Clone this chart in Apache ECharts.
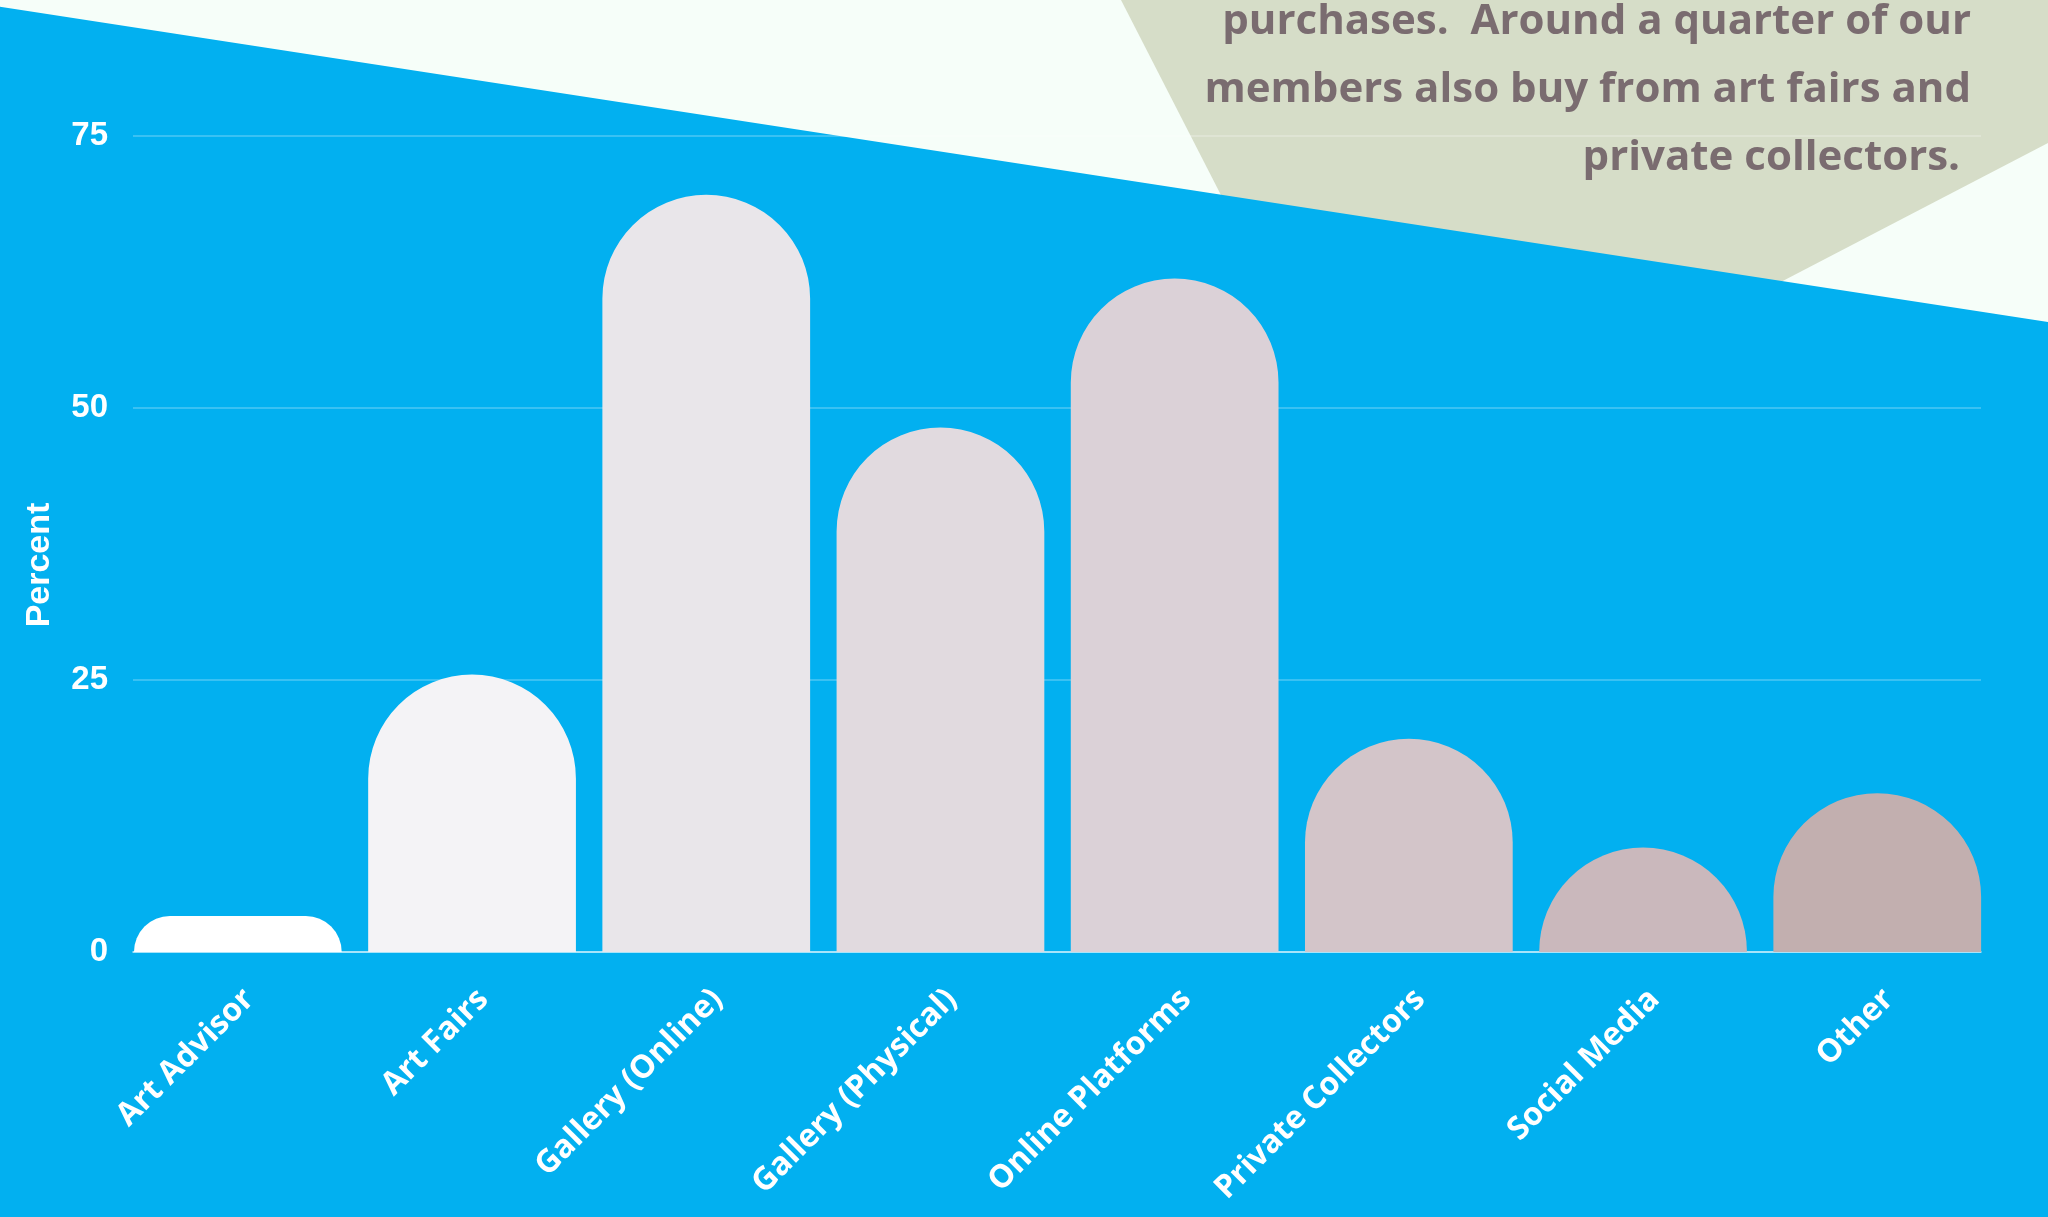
<!DOCTYPE html>
<html>
<head>
<meta charset="utf-8">
<script src="https://cdn.jsdelivr.net/npm/echarts@6/dist/echarts.min.js"></script>
<style>
  html, body { margin: 0; padding: 0; background: #f6fef9; }
  #chart { width: 2048px; height: 1217px; }
</style>
</head>
<body>
<div id="chart"></div>
<script>
// Where members buy their art (percent of respondents)
const categories = ['Art Advisor', 'Art Fairs', 'Gallery (Online)', 'Gallery (Physical)',
                    'Online Platforms', 'Private Collectors', 'Social Media', 'Other'];
const percents = [3.3, 25.5, 69.6, 48.2, 61.9, 19.6, 9.6, 14.6];
const barColors = ['#ffffff', '#f4f3f6', '#e9e6ea', '#e1dadf', '#dbd1d7', '#d3c5c9', '#cab8bc', '#c2afaf'];
const yTicks = [0, 25, 50, 75];
const noteLines = ['purchases.  Around a quarter of our',
                   'members also buy from art fairs and',
                   'private collectors. '];

const chart = echarts.init(document.getElementById('chart'), null, { renderer: 'canvas' });

const W = 2048, H = 1217;
const noteColor = '#7a6c70';
const noteFont = 'bold 42px "Open Sans", sans-serif';

const option = {
  backgroundColor: '#f6fef9',
  animation: false,
  graphic: [
    // pale green panel behind the note
    { type: 'polygon', z: -20, silent: true,
      shape: { points: [[1121, 0], [W, 0], [W, 143], [1554, 400], [1326, 400]] },
      style: { fill: '#d6ddc8' } },
    // blue slanted backdrop
    { type: 'polygon', z: -10, silent: true,
      shape: { points: [[0, 6.7], [W, 322], [W, H], [0, H]] },
      style: { fill: '#02b0f0' } },
    // note text, right aligned
    ...noteLines.map((t, i) => ({
      type: 'text', z: -5, silent: true,
      style: { text: t, x: 1971, y: 22 + i * 68, textAlign: 'right', textVerticalAlign: 'middle',
               font: noteFont, fill: noteColor }
    })),
    // y axis title
    { type: 'text', z: 5, silent: true, rotation: Math.PI / 2, x: 39.5, y: 565,
      style: { text: 'Percent', textAlign: 'center', textVerticalAlign: 'middle',
               font: 'bold 34px "Liberation Sans", Arial, sans-serif', fill: '#ffffff' } }
  ],
  grid: [
    // bars and category labels
    { left: 120.75, width: 1873.6, top: 136, bottom: 265 },
    // value scale, gridlines and baseline
    { left: 133, right: 67, top: 136, bottom: 265 }
  ],
  xAxis: [
    { type: 'category', gridIndex: 0, data: categories, boundaryGap: true,
      axisLine: { show: false }, axisTick: { show: false }, splitLine: { show: false },
      axisLabel: { interval: 0, rotate: 45, margin: 31, verticalAlign: 'top', color: '#ffffff',
                   fontFamily: '"Open Sans", sans-serif', fontWeight: 'bold', fontSize: 32 } },
    { type: 'category', gridIndex: 1, data: categories, boundaryGap: true,
      axisLine: { show: true, lineStyle: { color: 'rgba(255,255,255,0.75)', width: 1.5 } },
      axisTick: { show: false }, axisLabel: { show: false }, splitLine: { show: false } }
  ],
  yAxis: [
    { type: 'value', gridIndex: 0, min: 0, max: 75, interval: 25,
      axisLine: { show: false }, axisTick: { show: false }, axisLabel: { show: false },
      splitLine: { show: false } },
    { type: 'value', gridIndex: 1, min: yTicks[0], max: yTicks[yTicks.length - 1], interval: 25,
      axisLine: { show: false }, axisTick: { show: false },
      axisLabel: { margin: 25, color: '#ffffff', fontFamily: '"Liberation Sans", Arial, sans-serif',
                   fontWeight: 'bold', fontSize: 33 },
      splitLine: { show: true, lineStyle: { color: 'rgba(255,255,255,0.3)', width: 1.5 } } }
  ],
  series: [
    { type: 'bar', xAxisIndex: 0, yAxisIndex: 0, barCategoryGap: '11.3%',
      data: percents.map((v, i) => ({ value: v, itemStyle: { color: barColors[i] } })),
      itemStyle: { borderRadius: [104, 104, 0, 0] },
      z: 1 }
  ]
};

chart.setOption(option);
</script>
</body>
</html>
